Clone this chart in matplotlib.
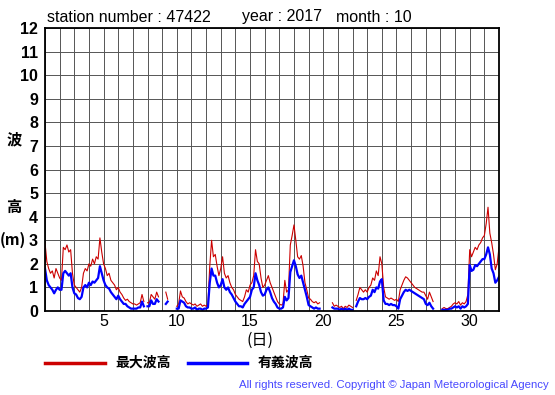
import numpy as np
import matplotlib.pyplot as plt

plt.rcParams['font.family'] = ['Liberation Sans', 'Noto Sans CJK JP', 'DejaVu Sans']

nan = np.nan

# 3-hourly readings, one row per day (00,03,...,21h), October 2017, station 47422
hmax_days = [
    [2.9, 2.1, 1.8, 1.6, 1.7, 1.4, 1.8, 1.6],
    [1.4, 1.3, 2.7, 2.6, 2.8, 2.5, 2.6, 1.6],
    [1.1, 1.0, 0.9, 0.8, 1.0, 1.6, 1.8, 1.7],
    [2.0, 1.9, 2.2, 2.0, 2.3, 2.2, 3.1, 2.5],
    [2.0, 1.8, 1.5, 1.6, 1.3, 1.2, 1.1, 0.9],
    [1.0, 0.8, 0.7, 0.55, 0.45, 0.5, 0.4, 0.35],
    [0.3, 0.3, 0.25, 0.3, 0.35, 0.7, 0.4, nan],
    [0.35, 0.35, 0.7, 0.6, 0.5, 0.8, 0.6, nan],
    [nan, nan, 0.8, 0.5, nan, nan, nan, nan],
    [0.2, 0.3, 0.85, 0.6, 0.55, 0.4, 0.3, 0.35],
    [0.3, 0.25, 0.3, 0.2, 0.25, 0.3, 0.2, 0.25],
    [0.2, 0.3, 1.9, 3.0, 2.3, 2.4, 1.9, 1.5],
    [1.8, 2.3, 1.6, 1.4, 1.5, 1.2, 1.0, 0.9],
    [0.7, 0.6, 0.5, 0.45, 0.4, 0.6, 0.9, 0.8],
    [1.1, 1.2, 1.5, 2.6, 2.1, 2.0, 1.4, 1.0],
    [1.1, 1.3, 1.5, 1.2, 1.0, 0.8, 0.6, 0.4],
    [0.3, 0.25, 0.3, 1.3, 0.8, 0.9, 2.8, 3.2],
    [3.65, 3.0, 2.3, 2.2, 2.35, 1.9, 1.2, 0.9],
    [0.55, 0.5, 0.4, 0.35, 0.4, 0.3, 0.35, nan],
    [nan, nan, nan, nan, nan, 0.35, 0.2, 0.25],
    [0.2, 0.15, 0.2, 0.1, 0.2, 0.15, 0.25, 0.2],
    [0.15, nan, 0.45, 0.7, 1.0, 0.9, 0.8, 0.9],
    [0.8, 1.0, 1.1, 1.4, 1.3, 1.7, 1.5, 2.3],
    [2.0, 1.0, 0.6, 0.55, 0.5, 0.55, 0.5, 0.45],
    [0.5, 0.4, 0.9, 1.1, 1.3, 1.45, 1.4, 1.3],
    [1.2, 1.1, 1.0, 0.95, 0.9, 0.85, 0.8, 0.8],
    [0.65, 0.5, 0.8, 0.6, 0.4, nan, nan, nan],
    [nan, 0.1, 0.15, 0.1, 0.1, 0.15, 0.2, 0.3],
    [0.35, 0.3, 0.4, 0.25, 0.35, 0.3, 0.4, 0.7],
    [2.6, 2.3, 2.5, 2.7, 2.6, 2.8, 2.9, 3.1],
    [3.2, 3.7, 4.4, 3.3, 2.9, 2.4, 1.75, 2.0],
]
hmax_end = 2.7

hsig_days = [
    [1.8, 1.3, 1.1, 1.0, 0.9, 0.75, 0.9, 1.0],
    [0.9, 0.9, 1.6, 1.7, 1.6, 1.5, 1.6, 1.0],
    [0.75, 0.7, 0.55, 0.5, 0.6, 1.0, 1.1, 1.0],
    [1.2, 1.1, 1.25, 1.2, 1.3, 1.4, 1.9, 1.6],
    [1.3, 1.1, 1.0, 0.95, 0.8, 0.7, 0.6, 0.5],
    [0.65, 0.5, 0.4, 0.3, 0.3, 0.2, 0.15, 0.1],
    [0.1, 0.1, 0.1, 0.15, 0.15, 0.4, 0.2, nan],
    [0.2, 0.2, 0.45, 0.3, 0.3, 0.5, 0.4, nan],
    [nan, nan, 0.3, 0.4, nan, nan, nan, nan],
    [0.1, 0.1, 0.45, 0.4, 0.35, 0.2, 0.15, 0.15],
    [0.1, 0.1, 0.15, 0.05, 0.1, 0.1, 0.05, 0.1],
    [0.1, 0.15, 1.2, 1.8, 1.5, 1.5, 1.2, 1.0],
    [1.1, 1.35, 1.0, 0.9, 1.0, 0.8, 0.7, 0.55],
    [0.4, 0.3, 0.2, 0.2, 0.15, 0.3, 0.4, 0.5],
    [0.6, 0.9, 1.0, 1.6, 1.3, 1.1, 0.8, 0.65],
    [0.7, 0.9, 1.0, 0.8, 0.55, 0.4, 0.3, 0.15],
    [0.1, 0.1, 0.15, 0.6, 0.45, 0.55, 1.65, 1.9],
    [2.15, 1.9, 1.55, 1.4, 1.5, 1.2, 0.9, 0.6],
    [0.25, 0.2, 0.15, 0.1, 0.15, 0.1, 0.1, nan],
    [nan, nan, nan, nan, nan, 0.15, 0.1, 0.1],
    [0.1, 0.05, 0.1, 0.05, 0.1, 0.05, 0.1, 0.05],
    [0.05, nan, 0.2, 0.4, 0.55, 0.5, 0.5, 0.55],
    [0.5, 0.6, 0.65, 0.9, 0.8, 1.0, 0.95, 1.25],
    [1.35, 0.45, 0.3, 0.3, 0.25, 0.3, 0.25, 0.25],
    [0.2, 0.1, 0.5, 0.65, 0.8, 0.9, 0.85, 0.9],
    [0.85, 0.8, 0.75, 0.7, 0.65, 0.6, 0.55, 0.5],
    [0.3, 0.25, 0.35, 0.2, 0.1, nan, nan, nan],
    [nan, 0.05, 0.05, 0.05, 0.05, 0.1, 0.1, 0.15],
    [0.2, 0.15, 0.2, 0.1, 0.2, 0.15, 0.2, 0.3],
    [1.95, 1.7, 1.75, 1.95, 1.9, 2.0, 2.1, 2.2],
    [2.2, 2.4, 2.7, 2.4, 1.8, 1.6, 1.2, 1.3],
]
hsig_end = 1.45

hmax = np.array(sum(hmax_days, []) + [hmax_end])
hsig = np.array(sum(hsig_days, []) + [hsig_end])
t = 1 + np.arange(len(hmax)) / 8.0

W, H = 555, 395
fig = plt.figure(figsize=(W / 100, H / 100), dpi=100)
ax = fig.add_axes([45 / W, 1 - 311 / H, 454 / W, 283 / H])

ax.plot(t, hmax, color='#cc0000', lw=0.8)
ax.plot(t, hsig, color='#0000ff', lw=1.6)

ax.set_xlim(1, 32)
ax.set_ylim(0, 12)
ax.set_xticks(np.arange(1, 33), minor=True)
ax.set_xticks([5, 10, 15, 20, 25, 30])
ax.set_yticks(np.arange(0, 13))
ax.grid(True, which='both', color='#555555', lw=0.7)
ax.tick_params(length=0, which='both')
ax.tick_params(axis='x', labelsize=11.5, pad=2.5)
ax.tick_params(axis='y', labelsize=11.5, pad=5)
for lab in ax.get_yticklabels():
    lab.set_fontweight('bold')
for s in ax.spines.values():
    s.set_linewidth(1.3)

def px(x, y):
    return x / W, 1 - y / H

fig.text(*px(47, 17), 'station number : 47422', fontsize=11.5, va='center')
fig.text(*px(242, 17), 'year : 2017', fontsize=11.5, va='center')
fig.text(*px(336, 17), 'month : 10', fontsize=11.5, va='center')

fig.text(*px(14, 140), '波', fontsize=11, fontweight='bold', ha='center', va='center')
fig.text(*px(14, 208), '高', fontsize=11, fontweight='bold', ha='center', va='center')
fig.text(*px(13, 240), '(m)', fontsize=11, fontweight='bold', ha='center', va='center',
         family=['Noto Sans CJK JP'])
fig.text(*px(260, 340), '(日)', fontsize=11.5, ha='center', va='center', family=['Noto Sans CJK JP'])

fig.add_artist(plt.Line2D([45 / W, 105 / W], [1 - 363 / H] * 2, color='#cc0000', lw=2.5))
fig.text(*px(115, 363), '最大波高', fontsize=10, fontweight='bold', va='center',
         family=['Noto Sans CJK JP'])
fig.add_artist(plt.Line2D([188 / W, 247 / W], [1 - 363 / H] * 2, color='#0000ff', lw=2.5))
fig.text(*px(258, 363), '有義波高', fontsize=10, fontweight='bold', va='center',
         family=['Noto Sans CJK JP'])

fig.text(*px(549, 385), 'All rights reserved. Copyright © Japan Meteorological Agency',
         fontsize=8.2, color='#4848ff', ha='right', va='center')

fig.savefig('out.png', dpi=100)
